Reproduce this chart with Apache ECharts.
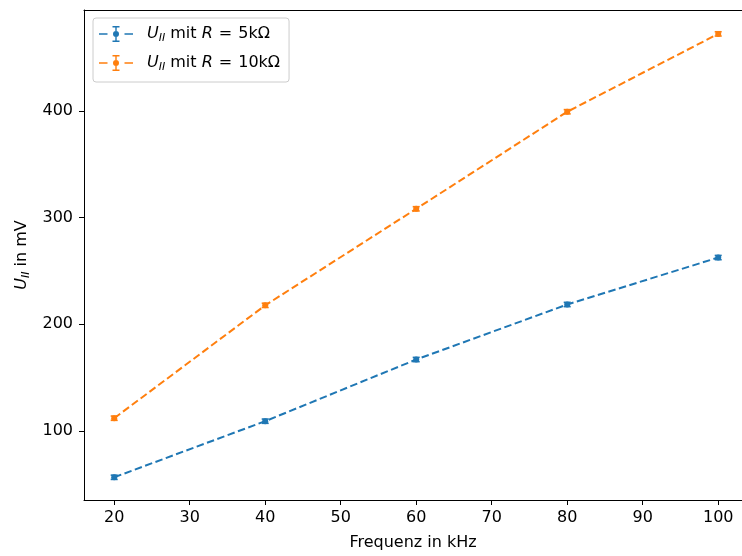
<!DOCTYPE html>
<html>
<head>
<meta charset="utf-8">
<script src="https://cdn.jsdelivr.net/npm/echarts@6/dist/echarts.min.js"></script>
<style>
  html, body { margin: 0; padding: 0; background: #fff; }
  #chart { width: 742px; height: 556px; }
</style>
</head>
<body>
<div id="chart"></div>
<script>
// Measured amplitude U_II versus frequency for two load resistors
const freqKHz = [20, 40, 60, 80, 100];
const u5k = [56.6, 109.2, 167.0, 218.6, 262.6];
const u10k = [112.0, 217.8, 308.3, 399.3, 472.3];
const err5k = [2, 2, 2, 2, 2];
const err10k = [2, 2, 2, 2, 2];
const resistors = ['5kΩ', '10kΩ'];
const xTicks = [20, 30, 40, 50, 60, 70, 80, 90, 100];
const yTicks = [100, 200, 300, 400];

const blue = '#1f77b4';
const orange = '#ff7f0e';
const font = 'DejaVu Sans';
const fs = 16;

const chart = echarts.init(document.getElementById('chart'));

const names = resistors.map(r => 'R = ' + r);

// vertical error bars with caps, drawn through the axis scales
function errorBars(name, color, values, errs) {
  return {
    type: 'custom',
    name: name,
    silent: true,
    z: 5,
    itemStyle: { color: color },
    data: freqKHz.map((f, i) => [f, values[i], errs[i]]),
    renderItem(params, api) {
      const x = api.value(0), y = api.value(1), e = api.value(2);
      const hi = api.coord([x, y + e]);
      const lo = api.coord([x, y - e]);
      const cap = 3.5;
      const st = { stroke: color, lineWidth: 1.6 };
      return {
        type: 'group',
        children: [
          { type: 'line', shape: { x1: hi[0], y1: hi[1], x2: lo[0], y2: lo[1] }, style: st },
          { type: 'line', shape: { x1: hi[0] - cap, y1: hi[1], x2: hi[0] + cap, y2: hi[1] }, style: st },
          { type: 'line', shape: { x1: lo[0] - cap, y1: lo[1], x2: lo[0] + cap, y2: lo[1] }, style: st }
        ]
      };
    }
  };
}

function lineSeries(name, color, values) {
  return {
    type: 'line',
    name: name,
    data: freqKHz.map((f, i) => [f, values[i]]),
    symbol: 'circle',
    symbolSize: 6,
    showSymbol: true,
    z: 4,
    itemStyle: { color: color },
    lineStyle: { color: color, width: 2, type: [7.5, 3.5] },
    emphasis: { disabled: true }
  };
}

// legend handle: dash, error bar with dot, dash (non-overlapping pieces)
const handle = 'path://M0,7.2h8.5v1.6h-8.5z M25.5,7.2h8.5v1.6h-8.5z ' +
  'M16.3,0h1.4v5h-1.4z M16.3,11h1.4v5h-1.4z ' +
  'M13.5,0h7v1.4h-7z M13.5,14.6h7v1.4h-7z ' +
  'M14,8a3,3 0 1,0 6,0a3,3 0 1,0 -6,0z';

const richText = {
  i: { fontStyle: 'italic', fontSize: fs, fontFamily: font, color: '#000' },
  s: { fontStyle: 'italic', fontSize: 11, fontFamily: font, color: '#000', padding: [9, 0, 0, 0] },
  n: { fontSize: fs, fontFamily: font, color: '#000' },
  sp: { width: 6 }
};

chart.setOption({
  animation: false,
  backgroundColor: '#fff',
  grid: { left: 84, right: 0, top: 10, bottom: 56, show: false },
  legend: {
    left: 93,
    top: 18,
    orient: 'vertical',
    data: names.map(n => ({ name: n, icon: handle })),
    itemWidth: 34,
    itemHeight: 16,
    itemGap: 9,
    padding: [6, 9, 9, 6],
    borderColor: '#cccccc',
    borderWidth: 1,
    borderRadius: 3,
    backgroundColor: 'rgba(255,255,255,0.8)',
    selectedMode: false,
    textStyle: { fontFamily: font, fontSize: fs, color: '#000', lineHeight: 20, padding: [0, 0, 0, 9], rich: richText },
    formatter: function (name) {
      const r = resistors[names.indexOf(name)];
      return '{i|U}{s|II}{n| mit }{i|R}{sp|}{n|=}{sp|}{n|' + r + '}';
    }
  },
  xAxis: [{
    type: 'value',
    min: 16,
    max: 103.15,
    name: 'Frequenz in kHz',
    nameLocation: 'middle',
    nameGap: 35,
    nameTextStyle: { fontFamily: font, fontSize: fs, color: '#000' },
    axisLine: { show: true, lineStyle: { color: '#000', width: 1 } },
    axisTick: { show: true, customValues: xTicks, length: 5, lineStyle: { color: '#000', width: 1 } },
    axisLabel: { customValues: xTicks, margin: 10, fontFamily: font, fontSize: fs, color: '#000' },
    splitLine: { show: false }
  }, {
    type: 'value',
    position: 'top',
    min: 16,
    max: 103.15,
    axisLine: { show: true, onZero: false, lineStyle: { color: '#000', width: 1 } },
    axisTick: { show: false },
    axisLabel: { show: false },
    splitLine: { show: false }
  }],
  yAxis: {
    type: 'value',
    min: 35.3,
    max: 494.7,
    name: '{i|U}{s|II}{n| in mV}',
    nameLocation: 'middle',
    nameGap: 52,
    nameRotate: 90,
    nameTextStyle: { fontFamily: font, fontSize: fs, color: '#000', rich: richText },
    axisLine: { show: true, lineStyle: { color: '#000', width: 1 } },
    axisTick: { show: true, customValues: yTicks, length: 5, lineStyle: { color: '#000', width: 1 } },
    axisLabel: { customValues: yTicks, margin: 11, fontFamily: font, fontSize: fs, color: '#000' },
    splitLine: { show: false }
  },
  series: [
    lineSeries('line-5k', blue, u5k),
    errorBars(names[0], blue, u5k, err5k),
    lineSeries('line-10k', orange, u10k),
    errorBars(names[1], orange, u10k, err10k)
  ]
});
</script>
</body>
</html>
